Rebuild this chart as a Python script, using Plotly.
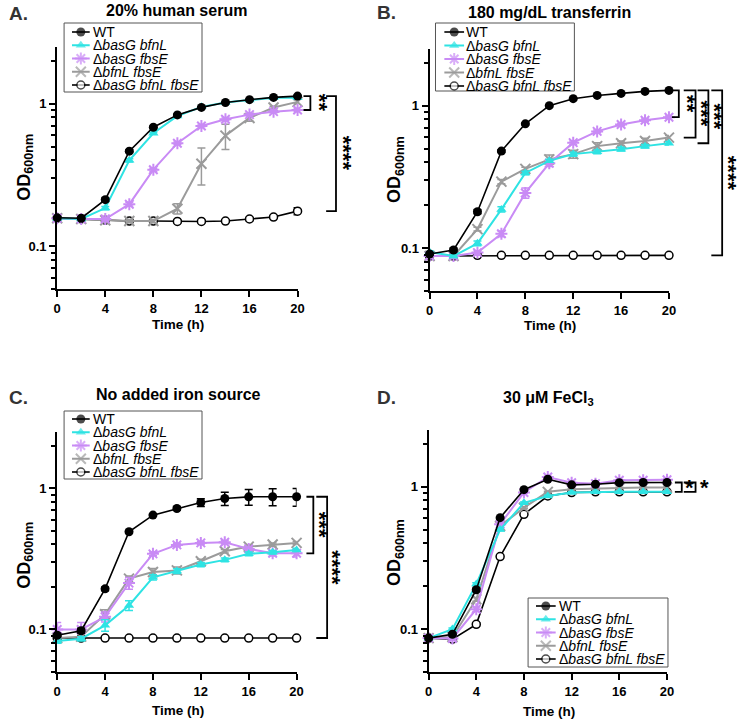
import numpy as np
import plotly.graph_objects as go

W, H = 740, 723
FONT = "Liberation Sans, Arial, Helvetica, sans-serif"

# ---------------- data ----------------
time_h = [0, 2, 4, 6, 8, 10, 12, 14, 16, 18, 20]
x_tick_vals = [0, 4, 8, 12, 16, 20]
y_tick_vals = [0.1, 1]
y_tick_text = ["0.1", "1"]
y_minor_vals = [0.05, 0.06, 0.07, 0.08, 0.09, 0.2, 0.3, 0.4, 0.5, 0.6, 0.7, 0.8, 0.9, 2]

strain_names = ["WT", "ΔbasG bfnL", "ΔbasG fbsE", "ΔbfnL fbsE", "ΔbasG bfnL fbsE"]
legend_labels = ["WT", "Δ<i>basG bfnL</i>", "Δ<i>basG fbsE</i>", "Δ<i>bfnL fbsE</i>", "Δ<i>basG bfnL fbsE</i>"]
panel_titles = ["20% human serum", "180 mg/dL transferrin", "No added iron source", "30 μM FeCl<sub>3</sub>"]
panel_letters = ["A.", "B.", "C.", "D."]

# Panel A: 20% human serum
A_WT = [0.158, 0.157, 0.212, 0.464, 0.683, 0.834, 0.942, 1.02, 1.067, 1.107, 1.13]
A_bfnL = [0.157, 0.155, 0.185, 0.40, 0.62, 0.82, 0.95, 1.02, 1.06, 1.10, 1.10]
A_fbsE = [0.157, 0.155, 0.155, 0.197, 0.344, 0.528, 0.698, 0.777, 0.838, 0.879, 0.903]
A_dbl = [0.157, 0.155, 0.152, 0.150, 0.150, 0.183, 0.379, 0.597, 0.794, 0.94, 1.03]
A_tpl = [0.157, 0.155, 0.152, 0.150, 0.150, 0.149, 0.149, 0.150, 0.155, 0.160, 0.176]
A_WT_sd = [0.004, 0.003, 0.006, 0.010, 0.010, 0.010, 0.010, 0.010, 0.012, 0.012, 0.015]
A_bfnL_sd = [0.004, 0.003, 0.005, 0.010, 0.010, 0.010, 0.010, 0.010, 0.010, 0.010, 0.010]
A_fbsE_sd = [0.004, 0.003, 0.004, 0.006, 0.008, 0.010, 0.010, 0.015, 0.015, 0.015, 0.020]
A_dbl_sd = [0.004, 0.003, 0.004, 0.004, 0.004, 0.015, 0.110, 0.120, 0.040, 0.020, 0.030]
A_tpl_sd = [0.004, 0.003, 0.003, 0.003, 0.003, 0.003, 0.003, 0.003, 0.004, 0.004, 0.010]

# Panel B: 180 mg/dL transferrin
B_WT = [0.091, 0.097, 0.18, 0.48, 0.746, 1.0, 1.12, 1.18, 1.22, 1.26, 1.28]
B_bfnL = [0.094, 0.088, 0.108, 0.187, 0.337, 0.41, 0.457, 0.474, 0.495, 0.52, 0.545]
B_fbsE = [0.088, 0.088, 0.093, 0.126, 0.244, 0.394, 0.55, 0.66, 0.738, 0.79, 0.83]
B_dbl = [0.088, 0.088, 0.136, 0.293, 0.36, 0.42, 0.457, 0.52, 0.545, 0.565, 0.597]
B_tpl = [0.088, 0.088, 0.089, 0.089, 0.089, 0.089, 0.089, 0.089, 0.089, 0.089, 0.089]
B_WT_sd = [0.002, 0.003, 0.006, 0.010, 0.010, 0.015, 0.015, 0.015, 0.015, 0.015, 0.015]
B_bfnL_sd = [0.002, 0.002, 0.004, 0.008, 0.010, 0.010, 0.015, 0.015, 0.015, 0.015, 0.015]
B_fbsE_sd = [0.002, 0.002, 0.003, 0.006, 0.020, 0.020, 0.015, 0.015, 0.015, 0.015, 0.015]
B_dbl_sd = [0.002, 0.002, 0.004, 0.010, 0.010, 0.030, 0.030, 0.030, 0.020, 0.025, 0.020]
B_tpl_sd = [0.001, 0.001, 0.001, 0.001, 0.001, 0.001, 0.001, 0.001, 0.001, 0.001, 0.001]

# Panel C: no added iron source
C_WT = [0.091, 0.098, 0.194, 0.492, 0.645, 0.718, 0.792, 0.845, 0.869, 0.87, 0.87]
C_bfnL = [0.083, 0.086, 0.107, 0.148, 0.234, 0.259, 0.288, 0.311, 0.343, 0.352, 0.366]
C_fbsE = [0.100, 0.100, 0.123, 0.213, 0.343, 0.397, 0.41, 0.414, 0.372, 0.346, 0.346]
C_dbl = [0.087, 0.089, 0.128, 0.229, 0.255, 0.262, 0.304, 0.358, 0.386, 0.399, 0.41]
C_tpl = [0.087, 0.087, 0.087, 0.087, 0.087, 0.087, 0.087, 0.087, 0.087, 0.087, 0.087]
C_WT_sd = [0.003, 0.004, 0.006, 0.010, 0.010, 0.020, 0.050, 0.090, 0.110, 0.120, 0.125]
C_bfnL_sd = [0.003, 0.003, 0.010, 0.012, 0.010, 0.010, 0.010, 0.010, 0.010, 0.010, 0.010]
C_fbsE_sd = [0.012, 0.012, 0.010, 0.020, 0.010, 0.010, 0.010, 0.010, 0.010, 0.015, 0.020]
C_dbl_sd = [0.003, 0.003, 0.010, 0.010, 0.015, 0.015, 0.010, 0.010, 0.010, 0.010, 0.010]
C_tpl_sd = [0.001, 0.001, 0.001, 0.001, 0.001, 0.001, 0.001, 0.001, 0.001, 0.001, 0.001]

# Panel D: 30 uM FeCl3
D_WT = [0.0865, 0.092, 0.189, 0.606, 0.953, 1.127, 1.03, 1.04, 1.067, 1.07, 1.07]
D_bfnL = [0.0865, 0.100, 0.207, 0.50, 0.77, 0.86, 0.91, 0.92, 0.92, 0.92, 0.92]
D_fbsE = [0.0865, 0.086, 0.138, 0.545, 0.91, 1.17, 1.067, 1.05, 1.11, 1.11, 1.12]
D_dbl = [0.0865, 0.088, 0.162, 0.53, 0.713, 0.92, 0.96, 0.975, 0.98, 0.985, 0.985]
D_tpl = [0.0865, 0.085, 0.108, 0.323, 0.64, 0.86, 0.91, 0.92, 0.92, 0.92, 0.92]
D_WT_sd = [0.002, 0.002, 0.005, 0.010, 0.010, 0.015, 0.010, 0.010, 0.010, 0.010, 0.010]
D_bfnL_sd = [0.002, 0.002, 0.005, 0.010, 0.010, 0.010, 0.010, 0.010, 0.010, 0.010, 0.010]
D_fbsE_sd = [0.002, 0.002, 0.005, 0.010, 0.010, 0.015, 0.010, 0.010, 0.010, 0.010, 0.010]
D_dbl_sd = [0.002, 0.002, 0.005, 0.010, 0.010, 0.010, 0.010, 0.010, 0.010, 0.010, 0.010]
D_tpl_sd = [0.002, 0.002, 0.003, 0.008, 0.010, 0.010, 0.010, 0.010, 0.010, 0.010, 0.010]

# ---------------- styles ----------------
COL = ["#000000", "#2EE3E3", "#C98BF5", "#9B9B9B", "#000000"]
SYM = ["circle", "triangle-up", "asterisk-open", "x-thin-open", "circle"]
FILL = ["#000000", "#2EE3E3", "#C98BF5", "#9B9B9B", "#FFFFFF"]
MSIZE = [9, 9, 10, 10, 8]
MLW = [0, 0, 2, 2, 1.5]
LW = [1.6, 2, 2, 2, 1.6]

panels = [
    dict(ax="", box=(54, 47, 298, 289),
         ys=[A_WT, A_bfnL, A_fbsE, A_dbl, A_tpl],
         sds=[A_WT_sd, A_bfnL_sd, A_fbsE_sd, A_dbl_sd, A_tpl_sd],
         title=(175, 11), letter=(3, 13), ytitle=(21, 167), xtitle=(177, 324),
         leg=dict(box=(61, 23, 201, 92), line=(69, 87), mark=78, text=88, y0=32, dy=13.25)),
    dict(ax="2", box=(432, 49, 675, 291),
         ys=[B_WT, B_bfnL, B_fbsE, B_dbl, B_tpl],
         sds=[B_WT_sd, B_bfnL_sd, B_fbsE_sd, B_dbl_sd, B_tpl_sd],
         title=(554, 12), letter=(377, 12), ytitle=(397, 170), xtitle=(554, 326),
         leg=dict(box=(438, 23, 579, 91), line=(447, 467), mark=457, text=467, y0=32, dy=13.5)),
    dict(ax="3", box=(54, 432, 297, 672),
         ys=[C_WT, C_bfnL, C_fbsE, C_dbl, C_tpl],
         sds=[C_WT_sd, C_bfnL_sd, C_fbsE_sd, C_dbl_sd, C_tpl_sd],
         title=(177, 395), letter=(3, 397), ytitle=(21, 555), xtitle=(177, 710),
         leg=dict(box=(61, 411, 201, 479), line=(69, 87), mark=78, text=88, y0=419, dy=13.25)),
    dict(ax="4", box=(431, 430, 673, 672),
         ys=[D_WT, D_bfnL, D_fbsE, D_dbl, D_tpl],
         sds=[D_WT_sd, D_bfnL_sd, D_fbsE_sd, D_dbl_sd, D_tpl_sd],
         title=(553, 398), letter=(377, 397), ytitle=(397, 553), xtitle=(553, 711),
         leg=dict(box=(532, 598, 674, 667), line=(540, 560), mark=550, text=561, y0=606, dy=13.25)),
]

# significance brackets: (panel, upper series, lower series, arm start px, vertical px, star px, text, rotated)
brackets = [
    (0, 0, 2, 304, 311, 321, "**", True),
    (0, 0, 4, 327, 337, 344, "****", True),
    (1, 0, 2, 678, 685, 693, "**", True),
    (1, 0, 3, 690, 702, 708, "***", True),
    (1, 0, 1, 704, 715, 721, "***", True),
    (1, 0, 4, 718, 729, 735, "****", True),
    (2, 0, 2, 307, 314, 321, "***", True),
    (2, 0, 4, 317, 328, 334, "****", True),
    (3, 0, 1, 681, 688, 696, "*", False),
    (3, 0, 4, 690, 702, 711, "*", False),
]

fig = go.Figure()
annotations = []
shapes = []


def px_x(p):
    return p / W


def px_y(p):
    return 1 - p / H


def ann(text, x, y, size, bold=True, angle=0, xanchor="center", yanchor="middle", color="black",
        xref="paper", yref="paper"):
    return dict(text=text, x=x, y=y, xref=xref, yref=yref, showarrow=False, textangle=angle,
                xanchor=xanchor, yanchor=yanchor,
                font=dict(family=FONT, size=size, color=color, weight="bold" if bold else "normal"))


layout_axes = {}
for k, p in enumerate(panels):
    a = p["ax"]
    x0, y0, x1, y1 = p["box"]
    layout_axes["xaxis" + a] = dict(
        domain=[px_x(x0), px_x(x1)], range=[0, 20], anchor="y" + a,
        tickmode="array", tickvals=x_tick_vals, ticks="outside", ticklen=6, tickwidth=2,
        tickcolor="black", showline=True, linecolor="black", linewidth=2,
        showgrid=False, zeroline=False,
        tickfont=dict(family=FONT, size=13, color="black", weight="bold"))
    layout_axes["yaxis" + a] = dict(
        domain=[px_y(y1), px_y(y0)], type="log", range=[np.log10(0.05), np.log10(2.5)],
        anchor="x" + a, tickmode="array", tickvals=y_tick_vals, ticktext=y_tick_text,
        ticks="outside", ticklen=6, tickwidth=2, tickcolor="black",
        minor=dict(tickmode="array", tickvals=y_minor_vals, ticks="outside", ticklen=4,
                   tickwidth=1.5, tickcolor="black"),
        showline=True, linecolor="black", linewidth=2, showgrid=False, zeroline=False,
        tickfont=dict(family=FONT, size=13, color="black", weight="bold"))

    # data series (triple mutant first, WT last so it sits on top)
    for i in [4, 3, 2, 1, 0]:
        fig.add_trace(go.Scatter(
            x=time_h, y=p["ys"][i], mode="lines+markers", name=strain_names[i],
            xaxis="x" + a, yaxis="y" + a, showlegend=False, cliponaxis=False,
            line=dict(color=COL[i], width=LW[i]),
            marker=dict(symbol=SYM[i], size=MSIZE[i], color=FILL[i],
                        line=dict(color=COL[i], width=MLW[i])),
            error_y=dict(type="data", array=p["sds"][i], color=COL[i], thickness=1.5, width=4)))

    # titles
    annotations.append(ann(panel_titles[k], px_x(p["title"][0]), px_y(p["title"][1]), 16))
    annotations.append(ann(panel_letters[k], px_x(p["letter"][0]), px_y(p["letter"][1]), 19,
                           xanchor="left", color="#333333"))
    annotations.append(ann("OD<sub>600nm</sub>", px_x(p["ytitle"][0]), px_y(p["ytitle"][1]), 18, angle=-90))
    annotations.append(ann("Time (h)", px_x(p["xtitle"][0]), px_y(p["xtitle"][1]), 13.5))

    # hand-drawn legend box (tight rows like the original)
    lg = p["leg"]
    bx0, by0, bx1, by1 = lg["box"]
    shapes.append(dict(type="rect", xref="x5", yref="y5", x0=bx0, x1=bx1, y0=by0, y1=by1,
                       line=dict(color="#555555", width=1), fillcolor="white", layer="below"))
    for i in range(5):
        yr = lg["y0"] + i * lg["dy"]
        fig.add_trace(go.Scatter(
            x=[lg["line"][0], lg["mark"], lg["line"][1]], y=[yr, yr, yr], mode="lines+markers",
            xaxis="x5", yaxis="y5", showlegend=False, hoverinfo="skip", cliponaxis=False,
            line=dict(color=COL[i], width=LW[i]),
            marker=dict(symbol=SYM[i], size=[0, MSIZE[i], 0], color=FILL[i],
                        line=dict(color=COL[i], width=MLW[i]))))
        annotations.append(ann(legend_labels[i], lg["text"], yr, 14, bold=False, xanchor="left",
                               xref="x5", yref="y5"))

# significance brackets
for (pi, up, lo, xa, xv, xs, txt, rot) in brackets:
    p = panels[pi]
    a = p["ax"]
    yt = p["ys"][up][-1]
    yb = p["ys"][lo][-1]
    fig.add_trace(go.Scatter(
        x=[xa, xv, xv, xa], y=[yt, yt, yb, yb], mode="lines", xaxis="x5", yaxis="y" + a,
        showlegend=False, hoverinfo="skip", line=dict(color="black", width=1.8)))
    ymid = (np.log10(yt) + np.log10(yb)) / 2
    annotations.append(ann(txt, xs, ymid, 22, angle=90 if rot else 0, xref="x5", yref="y" + a))

layout_axes["xaxis5"] = dict(domain=[0, 1], range=[0, W], visible=False, anchor="y5", fixedrange=True)
layout_axes["yaxis5"] = dict(domain=[0, 1], range=[H, 0], visible=False, anchor="x5", fixedrange=True)

fig.update_layout(
    width=W, height=H, margin=dict(l=0, r=0, t=0, b=0),
    paper_bgcolor="white", plot_bgcolor="rgba(0,0,0,0)",
    showlegend=False, annotations=annotations, shapes=shapes,
    font=dict(family=FONT, color="black"),
    **layout_axes)

# remove the default 8px page margin so the figure fills the window exactly; hide the modebar
fig.write_html("out.html", config={"displayModeBar": False},
               post_script="document.body.style.margin='0';document.body.style.overflow='hidden';")
